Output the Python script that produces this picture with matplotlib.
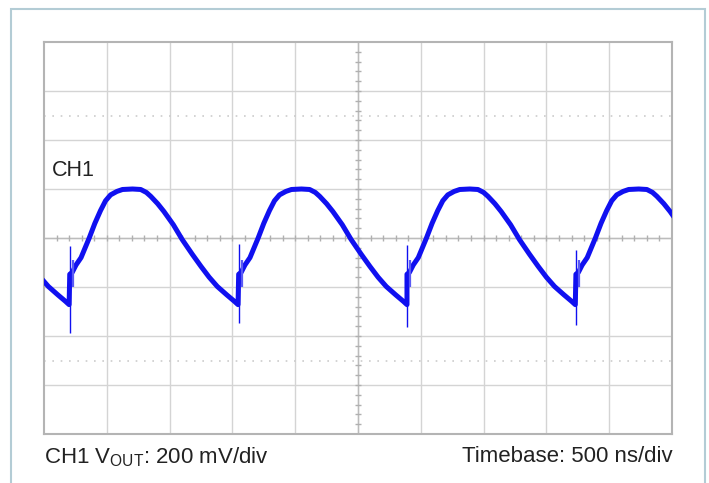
"""Oscilloscope capture: CH1 output ripple, 200 mV/div, 500 ns/div."""
import matplotlib

matplotlib.use("Agg")
import matplotlib.pyplot as plt  # noqa: E402
import numpy as np  # noqa: E402
from matplotlib.patches import Rectangle  # noqa: E402

plt.rcParams["font.family"] = ["Liberation Sans", "DejaVu Sans"]
plt.rcParams["mathtext.fontset"] = "custom"
plt.rcParams["mathtext.rm"] = "Liberation Sans"

# one switching cycle, offset from the spike (div) -> level (div)
cycle_dt = [0.00, 0.04, 0.10, 0.18, 0.31, 0.40, 0.49, 0.57, 0.65, 0.75,
            0.84, 1.00, 1.13, 1.22, 1.29, 1.40, 1.50, 1.65, 1.79, 1.95,
            2.09, 2.22, 2.35, 2.50, 2.62, 2.68]
cycle_v = [-0.74, -0.70, -0.55, -0.40, 0.00, 0.30, 0.56, 0.76, 0.88, 0.95,
           0.99, 1.00, 0.99, 0.93, 0.85, 0.70, 0.54, 0.27, -0.03, -0.33,
           -0.58, -0.80, -0.99, -1.16, -1.29, -1.36]

# switching spikes (first one is off screen, it only feeds the left edge)
spike_t = [-2.28, 0.41, 3.10, 5.78, 8.47]
spike_hi = [-0.17, -0.17, -0.12, -0.14, -0.24]
spike_lo = [-1.93, -1.93, -1.73, -1.81, -1.77]

BLUE = "#1010f0"

t, v = [], []
for s in spike_t:
    t += [s + d for d in cycle_dt]
    v += cycle_v

fig = plt.figure(figsize=(7.09, 4.83), dpi=100)
ax = fig.add_axes([44 / 709, 49 / 483, 628 / 709, 392 / 483])
ax.set_xlim(0, 10)
ax.set_ylim(-4, 4)

# graticule
for x in range(1, 10):
    ax.axvline(x, color="#d4d4d4", lw=1.0, zorder=1)
for y in range(-3, 4):
    ax.axhline(y, color="#d4d4d4", lw=1.0, zorder=1)
for y in (-2.5, 2.5):
    ax.axhline(y, color="#cccccc", lw=1.2, ls=(0, (1, 4)), zorder=1)
ax.axvline(5, color="#bcbcbc", lw=1.0, zorder=1)
ax.axhline(0, color="#bcbcbc", lw=1.0, zorder=1)
minor = np.arange(0.2, 10, 0.2)
ax.plot(minor, np.zeros_like(minor), ls="none", marker="|", ms=4,
        color="#b0b0b0", zorder=1)
minor_y = np.arange(-3.8, 4, 0.2)
ax.plot(np.full_like(minor_y, 5), minor_y, ls="none", marker="_", ms=4,
        color="#b0b0b0", zorder=1)

# trace
ax.plot(t, v, color=BLUE, lw=3.6, solid_joinstyle="round", zorder=3)
ax.vlines(spike_t, spike_lo, spike_hi, color=BLUE, lw=1.0, zorder=3)
ax.vlines([s + 0.05 for s in spike_t], [-1.0] * 5, [-0.45] * 5,
          color="#5a5af5", lw=1.6, zorder=3)

ax.text(0.13, 1.37, "CH1", fontsize=15.5, color="#222222",
        ha="left", va="center")

ax.set_xticks([])
ax.set_yticks([])
for sp in ax.spines.values():
    sp.set_color("#b4b4b4")
    sp.set_linewidth(1.5)

fig.text(44 / 709, 0.054, r"CH1 V$_{\mathregular{OUT}}$: 200 mV/div",
         fontsize=16, color="#222222", ha="left", va="center")
fig.text(673 / 709, 0.054, "Timebase: 500 ns/div",
         fontsize=16, color="#222222", ha="right", va="center")

# outer frame
fig.patches.append(Rectangle((11 / 709, -0.1), 694 / 709, 1.1 - 9 / 483,
                             transform=fig.transFigure, fill=False,
                             edgecolor="#b3ccd5", lw=1.5))

fig.savefig("out.png", dpi=100)
plt.close(fig)
